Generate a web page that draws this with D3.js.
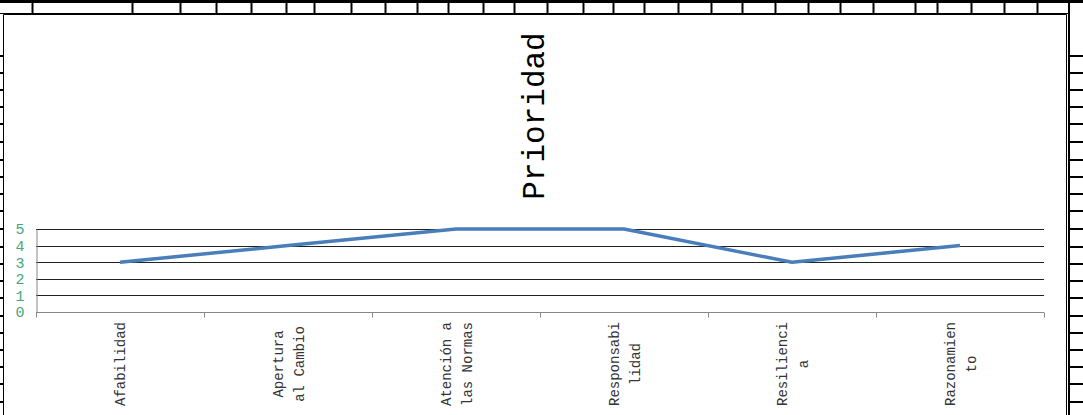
<!DOCTYPE html>
<html><head><meta charset="utf-8">
<script src="https://cdn.jsdelivr.net/npm/d3@7/dist/d3.min.js"></script>
<style>html,body{margin:0;padding:0;background:#fff;overflow:hidden}</style>
</head><body>
<svg id="c" width="1083" height="415"></svg>
<script>
const categories = [["Afabilidad"],["Apertura","al Cambio"],["Atención a","las Normas"],["Responsabi","lidad"],["Resilienci","a"],["Razonamien","to"]];
const categoryNames = categories.map(c => c.join(" "));
const values = [3,4,5,5,3,4];
const yTicks = [0,1,2,3,4,5];
const title = "Prioridad";
// spreadsheet ruler decorations around the embedded chart
const colLines = [32,132,180,216,251,286,314,351,385,417,448,483,514,547,583,613,644,678,711,742,775,808,840,873,915,937,971,1004,1037];
const rowLines = [56,73,90,107,124,142,160,177,194,211,229,247,264,281,298,316,333,350,367,384,402];

const FONT = "'Courier New', Courier, 'Nimbus Mono PS', 'Nimbus Mono L', FreeMono, 'Liberation Mono', monospace";
const svg = d3.select("#c");
const W = 1083, H = 415;

// sheet decorations
svg.append("line").attr("x1",0).attr("x2",W).attr("y1",1.5).attr("y2",1.5).attr("stroke","#000").attr("stroke-width",3);
svg.selectAll(".col").data(colLines).join("line").attr("x1",d=>d+0.5).attr("x2",d=>d+0.5).attr("y1",2).attr("y2",14).attr("stroke","#000").attr("stroke-width",2);
svg.append("line").attr("x1",0).attr("x2",1069).attr("y1",13.5).attr("y2",13.5).attr("stroke","#000").attr("stroke-width",1);
svg.selectAll(".rl").data(rowLines).join("line").attr("x1",0).attr("x2",3).attr("y1",d=>d).attr("y2",d=>d).attr("stroke","#000").attr("stroke-width",2);
svg.selectAll(".rr").data(rowLines).join("line").attr("x1",1069).attr("x2",W).attr("y1",d=>d).attr("y2",d=>d).attr("stroke","#000").attr("stroke-width",2);
svg.append("line").attr("x1",1069).attr("x2",1069).attr("y1",0).attr("y2",H).attr("stroke","#000").attr("stroke-width",2);

// chart frame
svg.append("path").attr("d",`M3.5,${H} V14.5 H1066.5 V${H}`).attr("fill","#fff").attr("stroke","#000").attr("stroke-width",1);

const x = d3.scaleBand().domain(categoryNames).range([36,1044]).padding(0);
const y = d3.scaleLinear().domain([0,5]).range([312,229]);
const cx = d => x(d) + x.bandwidth()/2;

// gridlines
svg.append("g").selectAll("line").data(yTicks.filter(t=>t>0)).join("line")
  .attr("x1",36).attr("x2",1044).attr("y1",d=>Math.round(y(d))+0.5).attr("y2",d=>Math.round(y(d))+0.5)
  .attr("stroke","#222").attr("stroke-width",1);

// y axis
const yAxis = svg.append("g").attr("transform","translate(36.5,0)")
  .call(d3.axisLeft(y).tickValues(yTicks).tickSize(0).tickPadding(10).tickFormat(d3.format("d")));
yAxis.select(".domain").attr("stroke","#888");
yAxis.selectAll("text").attr("fill","#45a878").attr("font-family",FONT).attr("font-size",15).attr("x",-12);

// x axis
const xAxis = svg.append("g").attr("transform",`translate(0,${Math.round(y(0))+0.5})`);
xAxis.append("line").attr("x1",36).attr("x2",1044).attr("stroke","#888");
const bounds = categoryNames.map(c=>x(c)).concat([x.range()[1]]);
xAxis.selectAll(".tk").data(bounds).join("line").attr("x1",d=>Math.round(d)+0.5).attr("x2",d=>Math.round(d)+0.5).attr("y1",0).attr("y2",5).attr("stroke","#888");

// x labels (rotated)
const lh = 21;
categories.forEach((lines,i) => {
  const c = cx(categoryNames[i]);
  const t = svg.append("text")
    .attr("transform",`translate(${c},364) rotate(-90)`)
    .attr("text-anchor","middle").attr("font-family",FONT).attr("font-size",14).attr("fill","#333");
  lines.forEach((ln,j) => {
    const off = (j - (lines.length-1)/2) * lh + 5;
    t.append("tspan").attr("x",0).attr("y",off).text(ln);
  });
});

// line
svg.append("path").datum(values)
  .attr("d", d3.line().x((d,i)=>cx(categoryNames[i])).y(d=>y(d)))
  .attr("fill","none").attr("stroke","#4a7ebb").attr("stroke-width",3.5).attr("stroke-linejoin","round");

// title
svg.append("text").attr("transform","translate(544,116) rotate(-90)")
  .attr("text-anchor","middle").attr("font-family",FONT).attr("font-size",31).attr("fill","#000").text(title);
</script>
</body></html>
